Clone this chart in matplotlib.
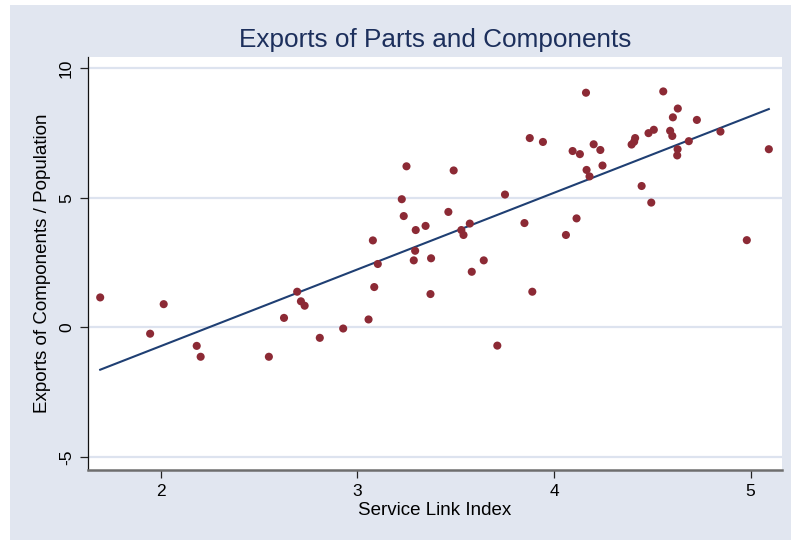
import numpy as np
import matplotlib
matplotlib.use("Agg")
import matplotlib.pyplot as plt
from matplotlib.patches import Rectangle

# Service Link Index (x) and exports of components per capita (y)
service_link = [
    1.692, 1.946, 2.015, 2.183, 2.203, 2.550, 2.627, 2.694, 2.713, 2.732,
    2.809, 2.928, 3.057, 3.079, 3.086, 3.104, 3.226, 3.236, 3.250, 3.297,
    3.294, 3.287, 3.347, 3.375, 3.372, 3.463, 3.490, 3.529, 3.540, 3.572,
    3.582, 3.643, 3.712, 3.751, 3.850, 3.877, 3.890, 3.944, 4.061, 4.095,
    4.115, 4.132, 4.163, 4.166, 4.181, 4.202, 4.236, 4.247, 4.395, 4.408,
    4.413, 4.446, 4.481, 4.495, 4.508, 4.556, 4.591, 4.602, 4.605, 4.630,
    4.629, 4.627, 4.686, 4.727, 4.847, 4.981, 5.093,
]
exports_per_pop = [
    1.16, -0.24, 0.90, -0.71, -1.13, -1.13, 0.37, 1.38, 1.01, 0.84,
    -0.40, -0.04, 0.31, 3.36, 1.56, 2.45, 4.95, 4.30, 6.22, 3.76,
    2.96, 2.59, 3.92, 2.67, 1.29, 4.46, 6.06, 3.76, 3.57, 4.01,
    2.15, 2.59, -0.70, 5.13, 4.03, 7.31, 1.38, 7.16, 3.57, 6.81,
    4.21, 6.69, 9.06, 6.08, 5.83, 7.07, 6.85, 6.25, 7.06, 7.17,
    7.31, 5.46, 7.50, 4.82, 7.63, 9.11, 7.59, 7.39, 8.11, 8.45,
    6.88, 6.64, 7.19, 8.01, 7.56, 3.37, 6.88,
]

x_ticks = [2, 3, 4, 5]
y_ticks = [-5, 0, 5, 10]

x = np.array(service_link)
y = np.array(exports_per_pop)

# Linear fit of exports on the service link index
slope, intercept = np.polyfit(x, y, 1)
x_fit = np.array([x.min(), x.max()])
y_fit = intercept + slope * x_fit

bg = "#e1e6f0"
fig = plt.figure(figsize=(7.91, 5.40), dpi=100, facecolor=bg)
# thin white margin on the left and top edges
fig.patches.append(Rectangle((0, 0), 10 / 791, 1, transform=fig.transFigure,
                             facecolor="white", edgecolor="none", zorder=-1))
fig.patches.append(Rectangle((0, 1 - 5 / 540), 1, 5 / 540, transform=fig.transFigure,
                             facecolor="white", edgecolor="none", zorder=-1))

ax = fig.add_axes([88 / 791, 1 - 470 / 540, (782 - 88) / 791, (470 - 56.7) / 540])
ax.set_facecolor("white")

ax.set_xlim(1.63, 5.16)
ax.set_ylim(-5.5, 10.45)

for t in y_ticks:
    ax.axhline(t, color="#dde3ef", lw=1.6, zorder=0)

ax.scatter(x, y, s=34, color="#8c2a35", edgecolors="none", zorder=3)
ax.plot(x_fit, y_fit, color="#1f3f73", lw=1.5, zorder=2)

for side in ("top", "right"):
    ax.spines[side].set_visible(False)
ax.spines["left"].set_color("#111111")
ax.spines["left"].set_linewidth(0.9)
ax.spines["bottom"].set_color("#6e6e6e")
ax.spines["bottom"].set_linewidth(1.8)

font = "Liberation Sans"
ax.set_xticks(x_ticks)
ax.set_yticks(y_ticks)
ax.set_xticklabels([str(v) for v in x_ticks], fontsize=12.5, family=font)
ax.set_yticklabels([str(v) for v in y_ticks], fontsize=12.5, family=font,
                   rotation=90, va="center")
ax.tick_params(axis="x", length=6, width=0.9, color="#222222", pad=4)
ax.tick_params(axis="y", length=6, width=0.9, color="#222222", pad=4)

ax.set_xlabel("Service Link Index", fontsize=13.5, family=font, labelpad=2)
ax.set_ylabel("Exports of Components / Population", fontsize=13.5, family=font,
              labelpad=6)

fig.text(0.5 * (88 + 782) / 791, 1 - 40 / 540, "Exports of Parts and Components",
         ha="center", va="center", fontsize=18.8, family=font, color="#1c2f5c")

fig.savefig("out.png", dpi=100, facecolor=bg)
